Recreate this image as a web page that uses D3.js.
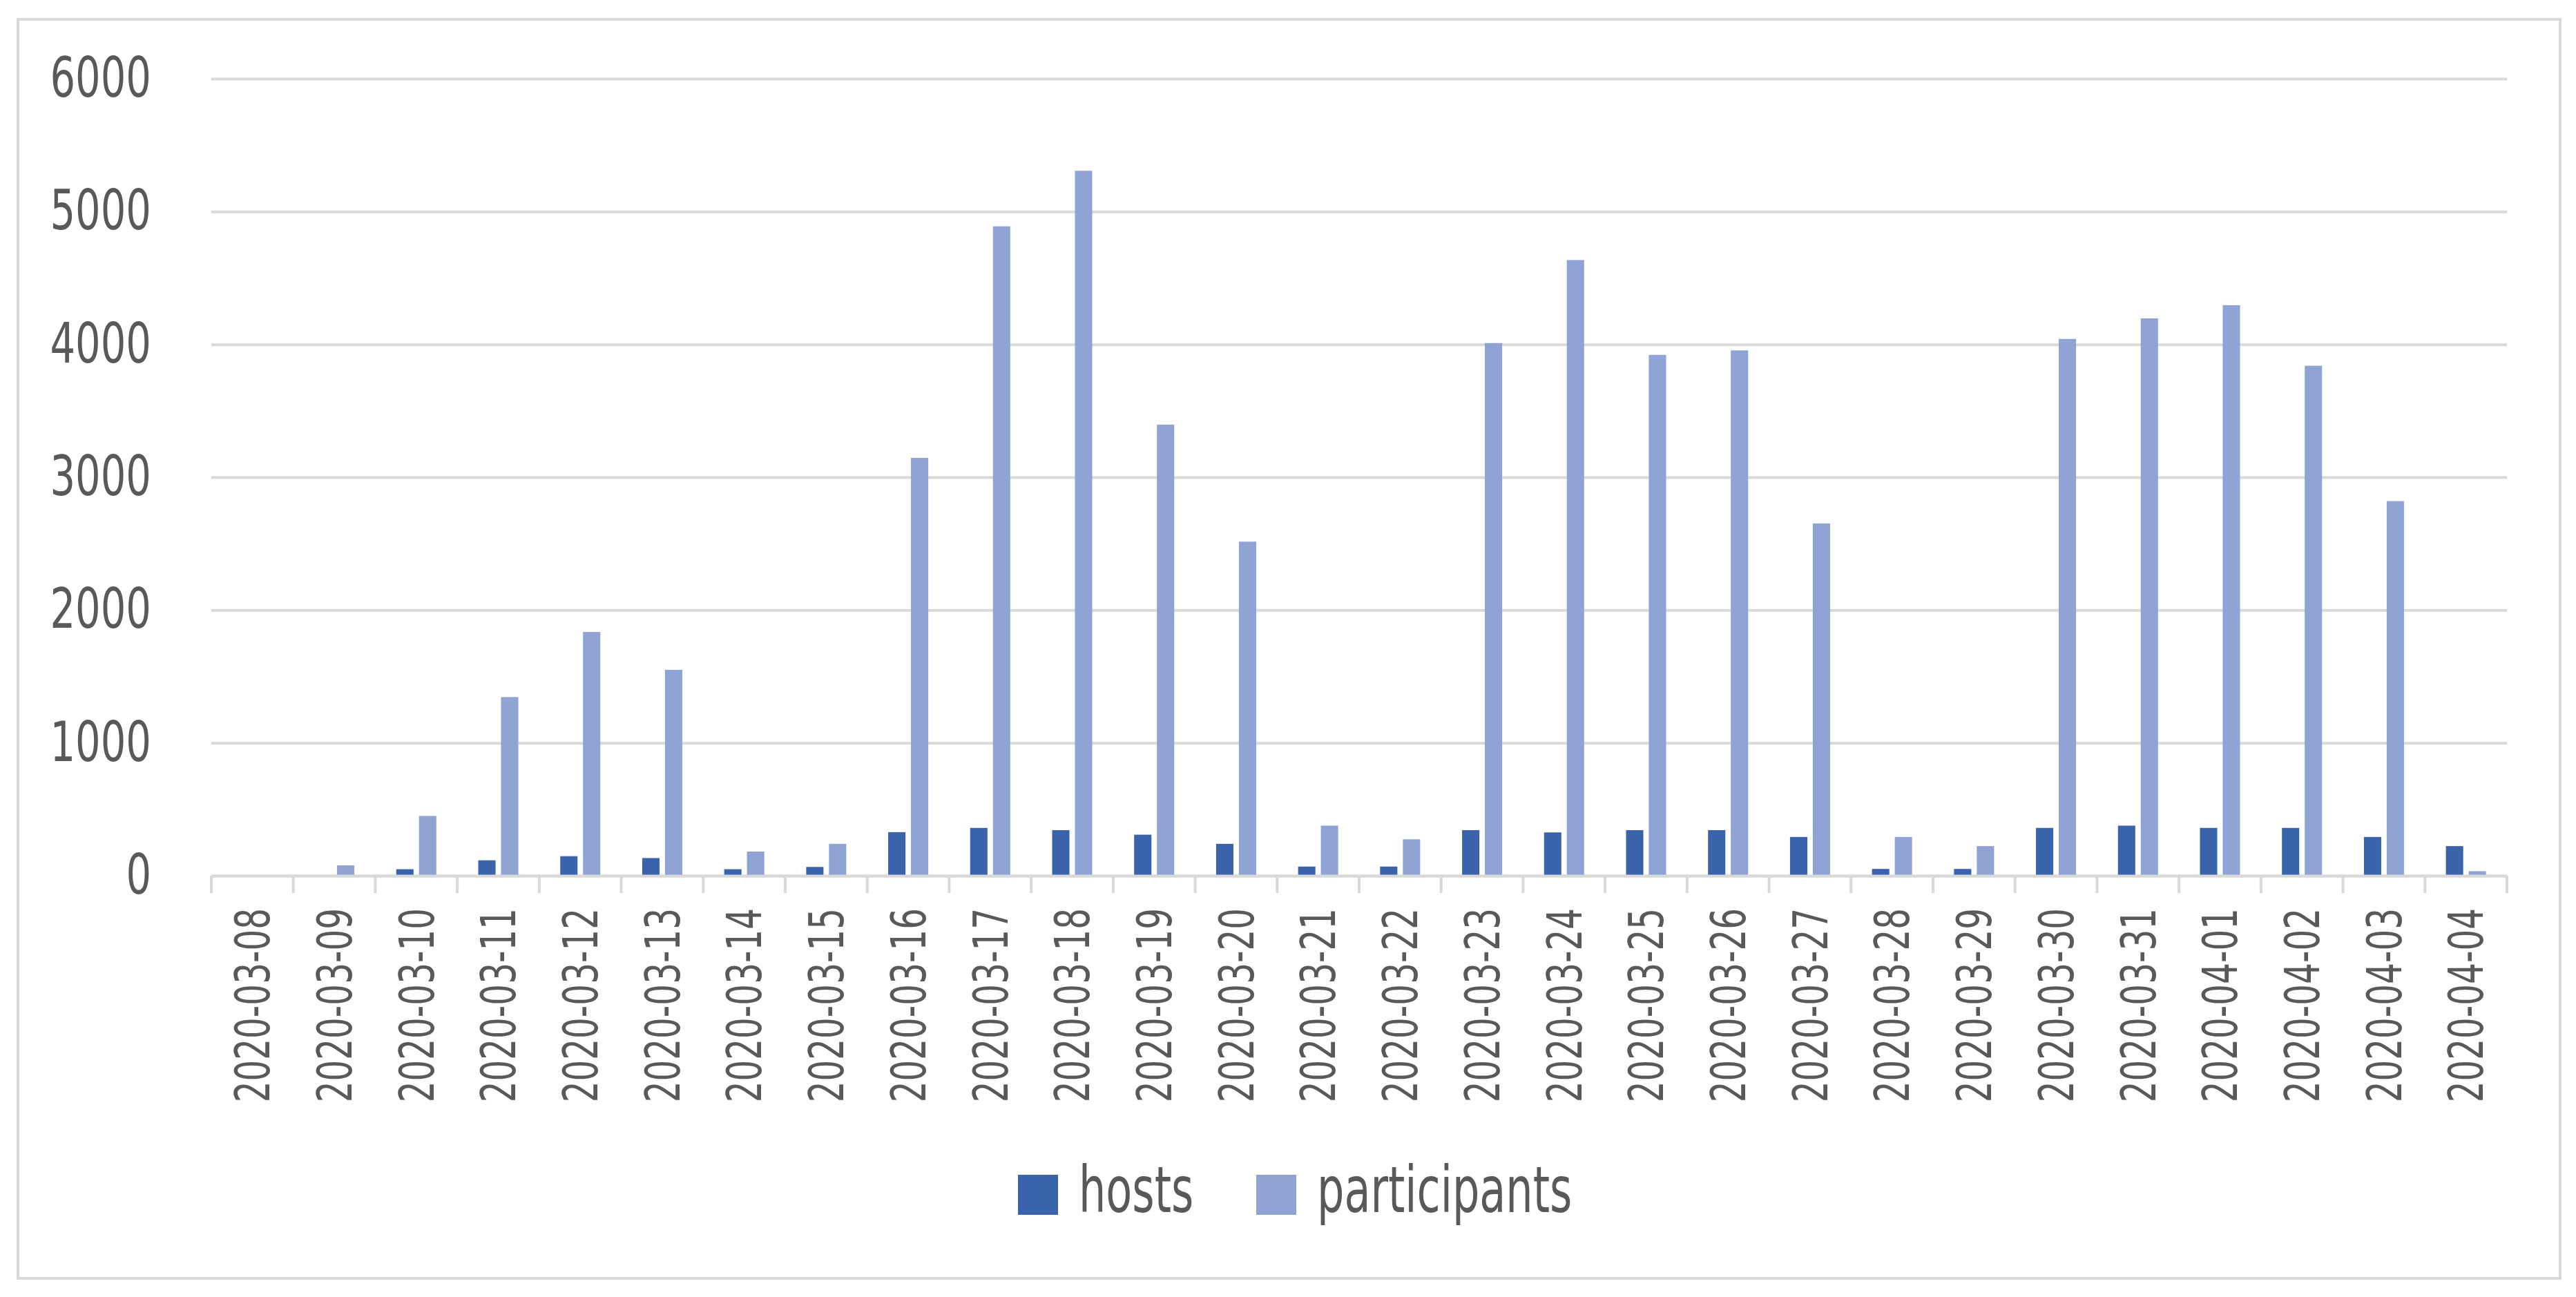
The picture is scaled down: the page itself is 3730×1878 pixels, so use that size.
<!DOCTYPE html>
<html>
<head>
<meta charset="utf-8">
<script src="https://cdn.jsdelivr.net/npm/d3@7"></script>
<style>
  body{margin:0;background:#fff;}
  text{font-family:"Liberation Sans Narrow","DejaVu Sans Condensed",sans-serif;fill:#595959;}
</style>
</head>
<body>
<div id="chart"></div>
<script>
const dates = ["2020-03-08","2020-03-09","2020-03-10","2020-03-11","2020-03-12","2020-03-13","2020-03-14",
  "2020-03-15","2020-03-16","2020-03-17","2020-03-18","2020-03-19","2020-03-20","2020-03-21",
  "2020-03-22","2020-03-23","2020-03-24","2020-03-25","2020-03-26","2020-03-27","2020-03-28",
  "2020-03-29","2020-03-30","2020-03-31","2020-04-01","2020-04-02","2020-04-03","2020-04-04"]
const hosts = [0,0,49,116,147,133,49,66,328,360,343,309,240,69,69,343,326,343,343,292,51,51,360,377,360,360,292,223]
const participants = [0,78,450,1345,1835,1550,182,240,3146,4889,5307,3396,2515,377,274,4010,4635,3921,3955,2652,292,223,4041,4196,4295,3839,2820,34]
const seriesNames = ["hosts","participants"]
const seriesColors = ["#3b63ac","#8fa3d5"]
const yTicks = [0,1000,2000,3000,4000,5000,6000]

// squeeze text horizontally, the original uses a narrow font
function condense(sel,k){
  sel.each(function(){
    const len = this.getComputedTextLength()
    d3.select(this).attr("textLength",len*k).attr("lengthAdjust","spacingAndGlyphs")
  })
}

function render(){
  let width = 3730,
      height = 1878,
      left = 306,
      right = 3630,
      top = 114,
      bottom = 1268

  const svg = d3.select("#chart").append("svg")
                .attr("width",width).attr("height",height)
  svg.append("rect").attr("x",26).attr("y",28).attr("width",3681).attr("height",1823)
     .attr("fill","#fff").attr("stroke","#d9d9d9").attr("stroke-width",4)

  const x = d3.scaleBand().domain(dates).range([left,right])
  const xs = d3.scaleBand().domain(seriesNames).range([0,x.bandwidth()]).paddingInner(0.24).paddingOuter(0.92)
  const y = d3.scaleLinear().domain([0,6000]).range([bottom,top])

  const yAxis = d3.axisLeft(y).tickValues(yTicks).tickFormat(d3.format("d")).tickSize(-(right-left)).tickPadding(87)
  let yGroup = svg.append("g").attr("transform",`translate(${left},0)`).call(yAxis)
  yGroup.select(".domain").remove()
  yGroup.selectAll("line").attr("stroke","#d9d9d9").attr("stroke-width",4)
  yGroup.selectAll("text").style("font-size","80px").attr("fill","#595959").call(condense,0.8)

  const rows = dates.map((d,i)=>({date:d,values:[hosts[i],participants[i]]}))
  let groups = svg.selectAll(".day").data(rows).enter().append("g")
                  .attr("transform",d=>`translate(${x(d.date)},0)`)
  groups.selectAll("rect").data(d=>d.values.map((v,k)=>({name:seriesNames[k],value:v,k:k})))
        .enter().append("rect")
        .attr("x",d=>xs(d.name))
        .attr("width",xs.bandwidth())
        .attr("y",d=>y(d.value))
        .attr("height",d=>bottom-y(d.value))
        .attr("fill",d=>seriesColors[d.k])

  // category axis, ticks between categories
  const xAxis = d3.axisBottom(x).tickSize(0).tickPadding(0)
  let xGroup = svg.append("g").attr("transform",`translate(0,${bottom})`).call(xAxis)
  xGroup.select(".domain").attr("stroke","#d9d9d9").attr("stroke-width",4)
  xGroup.selectAll("text").attr("transform","rotate(-90)").attr("x",-47).attr("y",0).attr("dy","0.36em")
        .attr("text-anchor","end").style("font-size","69px").attr("fill","#595959").call(condense,0.78)
  xGroup.selectAll(".sep").data(dates.map(d=>x(d)).concat([right])).enter().append("line")
        .attr("x1",d=>d).attr("x2",d=>d).attr("y1",0).attr("y2",25)
        .attr("stroke","#d9d9d9").attr("stroke-width",4)

  // legend
  const legendX = [1474,1819]
  let legend = svg.selectAll(".legend").data(seriesNames).enter().append("g")
                  .attr("transform",(d,i)=>`translate(${legendX[i]},1730)`)
  legend.append("rect").attr("x",0).attr("y",-29).attr("width",58).attr("height",58)
        .attr("fill",(d,i)=>seriesColors[i])
  legend.append("text").attr("x",88).attr("y",25).text(d=>d).style("font-size","92px").call(condense,0.75)
}

render()
</script>
</body>
</html>
